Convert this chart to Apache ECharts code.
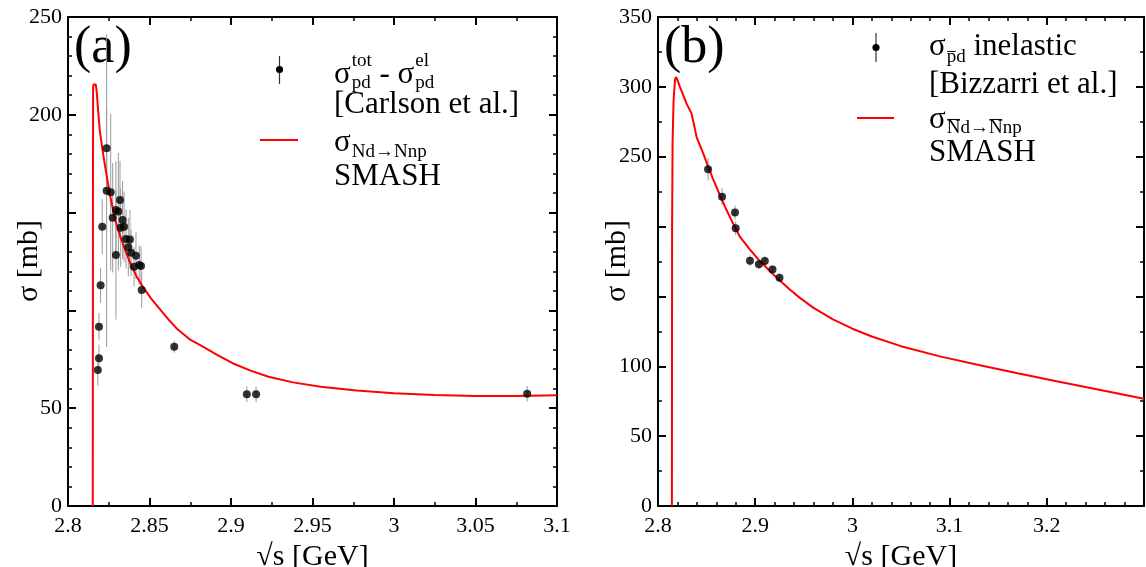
<!DOCTYPE html>
<html><head><meta charset="utf-8">
<script src="https://cdn.jsdelivr.net/npm/echarts@6/dist/echarts.min.js"></script>
<style>html,body{margin:0;padding:0;background:#fff}#c{width:1146px;height:567px}</style>
</head><body><div id="c"></div>
<script>
// ---------- data: panel (a) ----------
const leftX   = [2.8237,2.8237,2.8262,2.8319,2.8294,2.8309,2.8274,2.8210,2.8335,2.8323,2.8344,2.8356,2.8380,2.8370,2.8387,2.8294,2.8417,2.8405,2.8437,2.8448,2.8452,2.8200,2.8190,2.8190,2.8183,2.8652,2.9097,2.9154,3.0817];
const leftY   = [182.9,161.2,160.4,156.4,151.3,150.5,147.4,142.8,146.2,142.3,142.8,136.5,136.3,132.3,129.5,128.3,128.0,122.3,123.2,122.7,110.4,112.8,91.7,75.5,69.5,81.4,57.1,57.1,57.4];
const leftErr = [20,80,40,20,25,30,28,14,20,20,18,15,15,15,12,33,12,10,10,10,9,9,7,7,8,3,4,4,4];
const leftCurveX = [2.8152,2.8153,2.8154,2.8157,2.8170,2.8176,2.8185,2.8195,2.8210,2.8225,2.8245,2.8260,2.8290,2.8320,2.8350,2.8380,2.8420,2.8460,2.8510,2.8570,2.8620,2.8670,2.8750,2.8830,2.8920,2.9010,2.9120,2.9230,2.9380,2.9550,2.9770,3.0000,3.0250,3.0500,3.0750,3.1000];
const leftCurveY = [0,150,214,215.5,215.5,212,202,192,183,175,165,158,146,138,131,124.5,117.5,112,106,100,95,90.5,85,81.4,77,73,69.2,66.1,63.2,61,59,57.6,56.7,56.2,56.3,56.6];
const leftXLabels = ['2.8','2.85','2.9','2.95','3','3.05','3.1'];
const leftYLabels = ['0','50','200','250'];

// ---------- data: panel (b) ----------
const rightX   = [2.8515,2.8659,2.8792,2.8799,2.8946,2.9038,2.9099,2.9178,2.9250];
const rightY   = [241.0,221.4,210.0,198.8,175.6,173.0,175.4,169.2,163.4];
const rightErr = [8,6,5,5,4,3.5,3.5,3,3];
const rightCurveX = [2.8143,2.8145,2.8150,2.8160,2.8175,2.8185,2.8200,2.8225,2.8260,2.8294,2.8345,2.8370,2.8397,2.8464,2.8515,2.8567,2.8640,2.8704,2.8770,2.8840,2.8940,2.9045,2.9150,2.9250,2.9350,2.9450,2.9600,2.9800,3.0000,3.0200,3.0500,3.0900,3.1300,3.1700,3.2100,3.2500,3.3000];
const rightCurveY = [0,200,260,290,305,307,305,300,294,288,281,273,264,252.5,243,234,222,212,202.5,193,184,175.5,168.2,161.5,155.3,149.5,141.8,133.6,126.9,121.3,114.4,107.1,100.9,95,89.3,83.7,76.8];
const rightXLabels = ['2.8','2.9','3','3.1','3.2'];
const rightYLabels = ['0','50','100','250','300','350'];

// ---------- helpers ----------
const FONT = 'Liberation Serif';
const ctx = document.createElement('canvas').getContext('2d');
function tw(t, s){ ctx.font = s + 'px "' + FONT + '"'; return ctx.measureText(t).width; }
const K = 0.3375;
function txt(t, x, base, s){
  return {type:'text', x:x, y:base - K*s, silent:true,
    style:{text:t, fontSize:s, fontFamily:FONT, fill:'#000', align:'left', verticalAlign:'middle'}};
}
function hline(x1, x2, y, color, w){
  return {type:'line', silent:true, shape:{x1:x1, y1:y, x2:x2, y2:y}, style:{stroke:color, lineWidth:w}};
}
function vline(x, y1, y2, color, w){
  return {type:'line', silent:true, shape:{x1:x, y1:y1, x2:x, y2:y2}, style:{stroke:color, lineWidth:w}};
}
function fmt(labels){
  return function(v){ const s = String(+v.toFixed(3)); return labels.indexOf(s) >= 0 ? s : ''; };
}
function axis(kind, grid, pos, min, max, interval, minorSplit, labels, showLabel){
  const a = {
    type:'value', gridIndex:grid, position:pos, min:min, max:max, interval:interval,
    axisLine:{show:true, onZero:false, lineStyle:{color:'#000', width:2}},
    axisTick:{show:true, inside:true, length:8, lineStyle:{color:'#000', width:2}},
    minorTick:{show:true, splitNumber:minorSplit, length:4, lineStyle:{color:'#000', width:1.5}},
    splitLine:{show:false}, minorSplitLine:{show:false},
    axisLabel:{show:showLabel, color:'#000', fontFamily:FONT, fontSize:22,
      margin: kind === 'x' ? 9 : 6, formatter: fmt(labels)}
  };
  if (kind === 'x' && showLabel){
    a.name = '√s [GeV]'; a.nameLocation = 'middle'; a.nameGap = 31;
    a.nameTextStyle = {color:'#000', fontFamily:FONT, fontSize:30};
  }
  return a;
}
function errSeries(xi, yi, xs, ys, es){
  return {
    type:'custom', xAxisIndex:xi, yAxisIndex:yi, clip:true, z:2,
    data: xs.map((x,i)=>[x, ys[i]-es[i], ys[i]+es[i]]),
    encode:{x:0, y:[1,2]},
    renderItem:function(params, api){
      const p1 = api.coord([api.value(0), api.value(1)]);
      const p2 = api.coord([api.value(0), api.value(2)]);
      return {type:'line', shape:{x1:p1[0], y1:p1[1], x2:p2[0], y2:p2[1]},
        style:{stroke:'#9a9a9a', lineWidth:1}};
    }
  };
}

// ---------- legend / annotation graphics ----------
const g = [];
g.push(txt('(a)', 74, 66, 52));
g.push(txt('(b)', 664, 66, 52));
[[29, 261],[617, 261]].forEach(p=>{
  g.push({type:'text', x:p[0], y:p[1], rotation:Math.PI/2, silent:true,
    style:{text:'σ [mb]', fontSize:30, fontFamily:FONT, fill:'#000', align:'center', verticalAlign:'middle'}});
});
// left legend
g.push(vline(279.5, 56, 84, '#333', 1.2));
g.push({type:'circle', silent:true, shape:{cx:279.5, cy:69.5, r:3.6}, style:{fill:'#000'}});
(function(){
  let x = 334; const B = 85, S = 31, s = 19;
  g.push(txt('σ', x, B, S)); x += tw('σ', S) + 1;
  g.push(txt('tot', x, B - 18, s)); g.push(txt('pd', x, B + 4, s));
  x += Math.max(tw('tot', s), tw('pd', s));
  g.push(txt(' - ', x, B, S)); x += tw(' - ', S);
  g.push(txt('σ', x, B, S)); x += tw('σ', S) + 1;
  g.push(txt('el', x, B - 18, s)); g.push(txt('pd', x, B + 4, s));
})();
g.push(txt('[Carlson et al.]', 334, 115, 31));
g.push(hline(260, 298, 140, '#ff0000', 2));
(function(){
  let x = 334;
  g.push(txt('σ', x, 153, 31)); x += tw('σ', 31) + 1;
  g.push(txt('Nd→Nnp', x, 158, 19));
})();
g.push(txt('SMASH', 334, 187, 31));
// right legend
g.push(vline(876, 33, 62, '#333', 1.2));
g.push({type:'circle', silent:true, shape:{cx:876, cy:47.5, r:3.6}, style:{fill:'#000'}});
(function(){
  let x = 929; const s = 19;
  g.push(txt('σ', x, 57, 31)); x += tw('σ', 31) + 1;
  const bs = 63;
  g.push(hline(x + 0.5, x + tw('p', s) - 0.5, bs - 0.66*s + 1, '#000', 1));
  g.push(txt('pd', x, bs, s)); x += tw('pd', s);
  g.push(txt(' inelastic', x, 57, 31));
})();
g.push(txt('[Bizzarri et al.]', 929, 95, 31));
g.push(hline(857, 894, 118, '#ff0000', 2));
(function(){
  let x = 929; const s = 19;
  g.push(txt('σ', x, 130, 31)); x += tw('σ', 31) + 1;
  const bs = 134, oy = bs - 0.66*s - 2;
  g.push(hline(x + 0.5, x + tw('N', s) - 0.5, oy, '#000', 1));
  const x2 = x + tw('Nd→', s);
  g.push(hline(x2 + 0.5, x2 + tw('N', s) - 0.5, oy, '#000', 1));
  g.push(txt('Nd→Nnp', x, bs, s));
})();
g.push(txt('SMASH', 929, 163, 31));

// ---------- chart ----------
const chart = echarts.init(document.getElementById('c'), null, {renderer:'canvas'});
chart.setOption({
  animation:false,
  backgroundColor:'#fff',
  grid:[
    {left:68, top:17, width:489, height:489, containLabel:false, outerBoundsMode:'none'},
    {left:658, top:17, width:486, height:489, containLabel:false, outerBoundsMode:'none'}
  ],
  xAxis:[
    axis('x', 0, 'bottom', 2.8, 3.1, 0.05, 2, leftXLabels, true),
    axis('x', 0, 'top',    2.8, 3.1, 0.05, 2, leftXLabels, false),
    axis('x', 1, 'bottom', 2.8, 3.3, 0.1, 5, rightXLabels, true),
    axis('x', 1, 'top',    2.8, 3.3, 0.1, 5, rightXLabels, false)
  ],
  yAxis:[
    axis('y', 0, 'left',  0, 250, 50, 5, leftYLabels, true),
    axis('y', 0, 'right', 0, 250, 50, 5, leftYLabels, false),
    axis('y', 1, 'left',  0, 350, 50, 2, rightYLabels, true),
    axis('y', 1, 'right', 0, 350, 50, 2, rightYLabels, false)
  ],
  series:[
    errSeries(0, 0, leftX, leftY, leftErr),
    {type:'line', xAxisIndex:0, yAxisIndex:0, z:3, showSymbol:false, clip:true,
      data:leftCurveX.map((x,i)=>[x, leftCurveY[i]]),
      lineStyle:{color:'#ff0000', width:2}},
    {type:'scatter', xAxisIndex:0, yAxisIndex:0, z:4, symbolSize:8,
      data:leftX.map((x,i)=>[x, leftY[i]]), itemStyle:{color:'#000'}},
    errSeries(2, 2, rightX, rightY, rightErr),
    {type:'line', xAxisIndex:2, yAxisIndex:2, z:3, showSymbol:false, clip:true,
      data:rightCurveX.map((x,i)=>[x, rightCurveY[i]]),
      lineStyle:{color:'#ff0000', width:2}},
    {type:'scatter', xAxisIndex:2, yAxisIndex:2, z:4, symbolSize:8,
      data:rightX.map((x,i)=>[x, rightY[i]]), itemStyle:{color:'#000'}}
  ],
  graphic:{elements:g}
});
</script></body></html>
